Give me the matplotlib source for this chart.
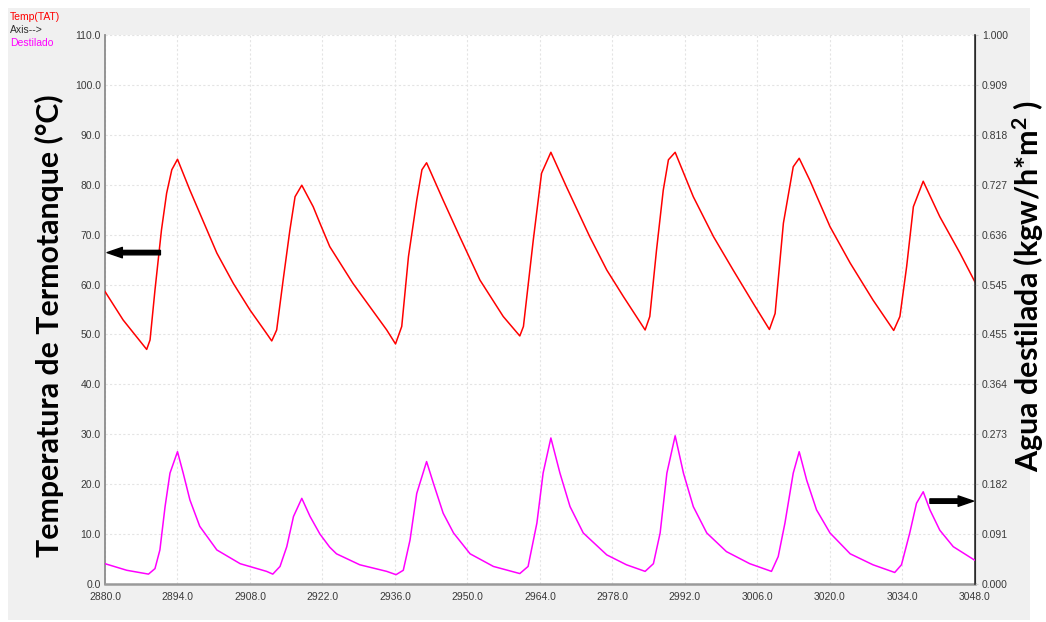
import matplotlib
matplotlib.use("Agg")
import matplotlib.pyplot as plt
from matplotlib.patches import Rectangle
from matplotlib.ticker import FixedLocator, FormatStrFormatter

plt.rcParams["font.family"] = ["Liberation Sans", "DejaVu Sans"]
plt.rcParams["mathtext.fontset"] = "custom"
plt.rcParams["mathtext.rm"] = "Lato"
plt.rcParams["mathtext.it"] = "Lato"
plt.rcParams["mathtext.bf"] = "Lato:bold"

# Tank temperature (hours, deg C)
temp_hours = [2880.0, 2883.5, 2888.05, 2888.7, 2889.65, 2890.9, 2891.9, 2892.9, 2894.0,
              2896.4, 2898.3, 2901.6, 2904.8, 2908.0, 2911.2, 2912.2,
              2913.15, 2914.4, 2915.7, 2916.7, 2918.0,
              2920.2, 2921.5, 2923.4, 2927.9, 2934.4, 2936.1,
              2937.3, 2938.6, 2940.2, 2941.2, 2942.1,
              2945.3, 2948.5, 2952.4, 2956.9, 2960.1,
              2960.8, 2962.7, 2964.3, 2966.1,
              2969.1, 2973.6, 2976.9, 2980.1, 2984.3,
              2985.2, 2986.5, 2987.8, 2988.8, 2990.1,
              2993.6, 2997.5, 3001.3, 3005.2, 3008.3,
              3009.4, 3011.0, 3012.9, 3014.05,
              3016.1, 3020.0, 3023.9, 3028.3, 3032.3,
              3033.5, 3034.8, 3036.1, 3038.0,
              3041.2, 3045.1, 3048.0]
temp_values = [58.6, 52.9, 47.0, 48.9, 58.9, 70.9, 78.3, 83.0, 85.1,
               78.9, 74.3, 66.3, 60.2, 54.9, 50.2, 48.7,
               50.9, 60.9, 70.9, 77.6, 79.9,
               75.6, 72.3, 67.6, 60.2, 50.9, 48.1,
               51.6, 65.6, 76.9, 83.0, 84.4,
               76.9, 69.6, 60.9, 53.6, 49.7,
               51.6, 68.9, 82.3, 86.5,
               79.6, 69.6, 62.9, 57.6, 50.9,
               53.6, 66.9, 78.9, 85.0, 86.5,
               77.6, 69.6, 62.9, 56.2, 51.0,
               54.2, 72.3, 83.6, 85.3,
               80.9, 71.6, 64.3, 56.9, 50.8,
               53.6, 63.6, 75.6, 80.7,
               73.6, 66.3, 60.5]

# Distilled water (hours, kgw/h*m2)
dest_hours = [2880.0, 2884.2, 2888.4, 2889.65, 2890.6, 2891.6, 2892.55, 2894.0,
              2895.1, 2896.4, 2898.3, 2901.6, 2906.1, 2911.2, 2912.4,
              2913.8, 2915.1, 2916.4, 2918.0,
              2919.6, 2921.5, 2923.4, 2924.7, 2929.2, 2934.4, 2936.2,
              2937.6, 2938.9, 2940.2, 2942.1,
              2943.4, 2945.3, 2947.3, 2950.5, 2955.0, 2960.1,
              2961.7, 2963.4, 2964.6, 2966.1,
              2967.85, 2969.8, 2972.35, 2976.9, 2980.7, 2984.3,
              2985.9, 2987.2, 2988.5, 2990.1,
              2991.7, 2993.6, 2996.2, 3000.0, 3004.5, 3008.7,
              3010.0, 3011.3, 3012.9, 3014.05,
              3015.5, 3017.4, 3020.0, 3023.9, 3028.3, 3032.5,
              3033.8, 3035.4, 3036.7, 3038.0,
              3039.3, 3041.2, 3043.8, 3048.0]
dest_values = [0.037, 0.025, 0.018, 0.028, 0.062, 0.141, 0.202, 0.241,
               0.202, 0.153, 0.105, 0.062, 0.037, 0.023, 0.018,
               0.032, 0.068, 0.123, 0.156,
               0.123, 0.091, 0.067, 0.055, 0.035, 0.023, 0.017,
               0.025, 0.080, 0.165, 0.223,
               0.184, 0.129, 0.093, 0.055, 0.032, 0.019,
               0.032, 0.111, 0.202, 0.266,
               0.202, 0.141, 0.093, 0.053, 0.035, 0.023,
               0.037, 0.093, 0.202, 0.270,
               0.202, 0.141, 0.093, 0.059, 0.037, 0.023,
               0.050, 0.111, 0.202, 0.241,
               0.189, 0.135, 0.093, 0.055, 0.035, 0.021,
               0.035, 0.093, 0.147, 0.168,
               0.135, 0.098, 0.068, 0.043]

x_ticks = [2880 + 14 * i for i in range(13)]
left_ticks = [10 * i for i in range(12)]
right_ticks = [i / 11 for i in range(12)]

series_names = ["Temp(TAT)", "Axis-->", "Destilado"]
left_label = "Temperatura de Termotanque (°C)"
right_label = "Agua destilada (kgw/h*m$^{\\mathbf{2}}$ )"

W, H = 1046, 622
fig = plt.figure(figsize=(W / 100, H / 100), dpi=100, facecolor="white")

# grey panel behind the chart
fig.patches.append(Rectangle((8 / W, 2 / H), (1030 - 8) / W, (614 - 2) / H,
                             transform=fig.transFigure, facecolor="#f0f0f0",
                             edgecolor="none", zorder=-10))

ax = fig.add_axes([105 / W, (H - 584) / H, (975 - 105) / W, (584 - 35) / H])
ax.set_facecolor("white")
ax2 = ax.twinx()

ax.plot(temp_hours, temp_values, color="#ff0000", lw=1.1, zorder=3,
        solid_joinstyle="round")
ax2.plot(dest_hours, dest_values, color="#ff00ff", lw=1.1, zorder=3,
         solid_joinstyle="round")

ax.set_xlim(2880, 3048)
ax.set_ylim(0, 110)
ax2.set_ylim(0, 1)

ax.xaxis.set_major_locator(FixedLocator(x_ticks))
ax.xaxis.set_major_formatter(FormatStrFormatter("%.1f"))
ax.yaxis.set_major_locator(FixedLocator(left_ticks))
ax.yaxis.set_major_formatter(FormatStrFormatter("%.1f"))
ax2.yaxis.set_major_locator(FixedLocator(right_ticks))
ax2.yaxis.set_major_formatter(FormatStrFormatter("%.3f"))

ax.grid(True, color="#e4e4e4", linestyle=(0, (2, 2)), lw=0.8)
ax.set_axisbelow(True)

tick_kw = dict(labelsize=7.5, labelcolor="#3a3a3a", length=0)
ax.tick_params(axis="x", pad=6, **tick_kw)
ax.tick_params(axis="y", pad=3, **tick_kw)
ax2.tick_params(axis="y", pad=3, labelsize=7.5, labelcolor="#3a3a3a",
                length=2, color="#cccccc")

for a in (ax, ax2):
    a.spines["top"].set_visible(False)
ax.spines["left"].set_color("#8c8c8c")
ax.spines["left"].set_linewidth(1.3)
ax.spines["bottom"].set_color("#9a9a9a")
ax.spines["bottom"].set_linewidth(1.8)
ax2.spines["left"].set_visible(False)
ax2.spines["bottom"].set_visible(False)
ax2.spines["right"].set_color("#333333")
ax2.spines["right"].set_linewidth(1.2)

# axis indicator arrows
arrow_style = "simple,head_length=1.1,head_width=0.75,tail_width=0.32"
ax.annotate("", xy=(2880.4, 66.4), xytext=(2890.7, 66.4),
            arrowprops=dict(arrowstyle=arrow_style, color="black",
                            shrinkA=0, shrinkB=0, mutation_scale=10),
            zorder=5)
ax2.annotate("", xy=(3047.7, 0.151), xytext=(3039.3, 0.151),
             arrowprops=dict(arrowstyle=arrow_style, color="black",
                             shrinkA=0, shrinkB=0, mutation_scale=10),
             zorder=5)

# series key in the corner
key_colors = ["#ff0000", "#303030", "#ff00ff"]
for i, (name, c) in enumerate(zip(series_names, key_colors)):
    fig.text(10 / W, 1 - (17 + 13 * i) / H, name, color=c, fontsize=7.5,
             ha="left", va="center")

fig.text(49 / W, 1 - 326 / H, left_label, rotation=90, ha="center", va="center",
         fontsize=21.8, fontweight="bold", family=["Lato", "DejaVu Sans"], color="black")
fig.text(1028 / W, 1 - 286 / H, right_label, rotation=90, ha="center", va="center",
         fontsize=22, fontweight="bold", family=["Lato", "DejaVu Sans"], color="black")

fig.savefig("out.png", dpi=100, facecolor="white")
